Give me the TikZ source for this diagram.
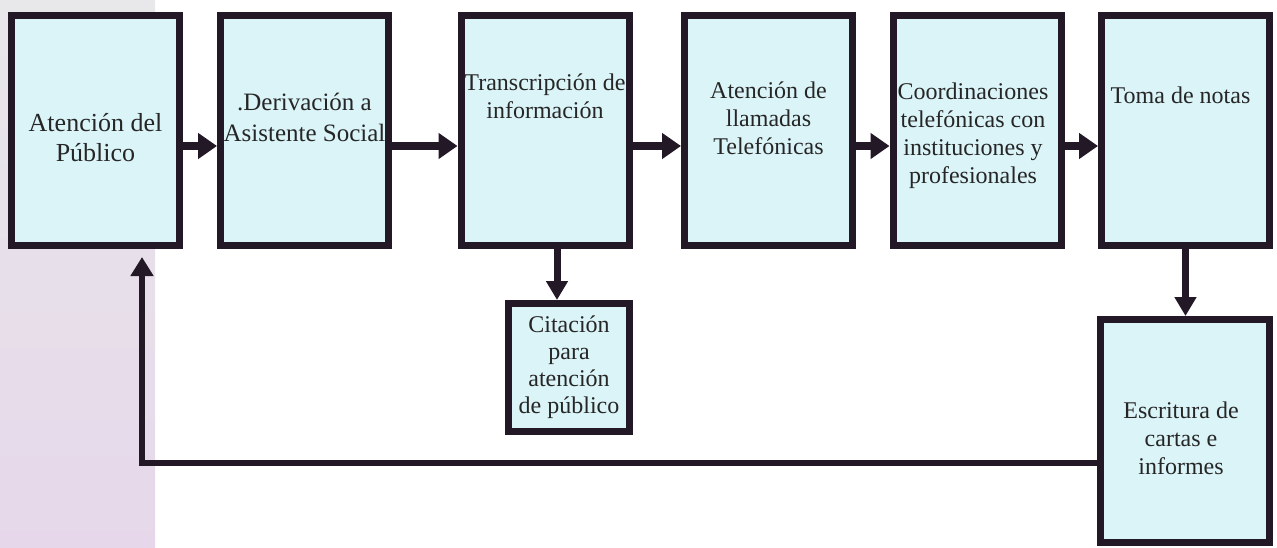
\documentclass[tikz,border=0pt]{standalone}
\usepackage{fontspec}
\setmainfont{Liberation Serif}
\usetikzlibrary{arrows.meta,positioning}
\definecolor{boxfill}{RGB}{218,244,248}
\definecolor{boxline}{RGB}{34,24,38}
\definecolor{bandtop}{RGB}{232,231,234}
\definecolor{bandbot}{RGB}{230,216,234}
\tikzset{
  procbox/.style={draw=boxline, line width=7pt, fill=boxfill, minimum width=168pt, minimum height=230pt, inner sep=0pt},
  proctext/.style={align=center, font=\fontsize{24}{28}\selectfont, text=black!85, inner sep=0pt},
  flowarr/.style={-{Triangle[length=19pt,width=25pt]}, line width=8pt, draw=boxline},
  downarr/.style={-{Triangle[length=19pt,width=21pt]}, line width=7pt, draw=boxline},
  backarr/.style={-{Triangle[length=19pt,width=22pt]}, line width=6pt, draw=boxline}
}

\begin{document}
\begin{tikzpicture}[x=1pt, y=-1pt]
\useasboundingbox (0,0) rectangle (1277,548);
\shade[top color=bandtop, bottom color=bandbot] (0,0) rectangle (155,548);
% top row
\node[procbox] (a1) at (95.5,130.5) {};
\node[procbox] (a2) at (304.5,130.5) {};
\node[procbox] (a3) at (545,130.5) {};
\node[procbox] (a4) at (768.5,130.5) {};
\node[procbox] (a5) at (977,130.5) {};
\node[procbox] (a6) at (1185.5,130.5) {};
% lower boxes
\node[procbox, minimum width=121pt, minimum height=128pt] (a7) at (569,367.5) {};
\node[procbox, minimum width=169pt, minimum height=223pt] (a8) at (1185,431) {};
% texts
\node[proctext, font=\fontsize{26}{30}\selectfont] (t1) at ([yshift=-7pt]a1.center) {Atención del\\Público};
\node[proctext, font=\fontsize{25}{31}\selectfont] (t2) at ([yshift=13.5pt]a2.center) {.Derivación a\\Asistente Social};
\node[proctext] (t3) at ([yshift=34.5pt]a3.center) {Transcripción de\\información};
\node[proctext] (t4) at ([yshift=12.5pt]a4.center) {Atención de\\llamadas\\Telefónicas};
\node[proctext] (t5) at ([xshift=-4pt,yshift=-5.5pt]a5.center) {Coordinaciones\\telefónicas con\\instituciones y\\profesionales};
\node[proctext] (t6) at ([xshift=-5pt,yshift=35.5pt]a6.center) {Toma de notas};
\node[proctext, font=\fontsize{24}{27}\selectfont] (t7) at (a7.center) {Citación\\para\\atención\\de público};
\node[proctext] (t8) at ([xshift=-4pt,yshift=-7pt]a8.center) {Escritura de\\cartas e\\informes};
% connectors
\draw[flowarr] ([yshift=-15.5pt]a1.east) -- ([yshift=-15.5pt]a2.west);
\draw[flowarr] ([yshift=-15.5pt]a2.east) -- ([yshift=-15.5pt]a3.west);
\draw[flowarr] ([yshift=-15.5pt]a3.east) -- ([yshift=-15.5pt]a4.west);
\draw[flowarr] ([yshift=-15.5pt]a4.east) -- ([yshift=-15.5pt]a5.west);
\draw[flowarr] ([yshift=-15.5pt]a5.east) -- ([yshift=-15.5pt]a6.west);
\draw[downarr] ([xshift=12pt]a3.south) -- ([xshift=12pt]a3.south |- a7.north);
\draw[downarr] (a6.south) -- (a6.south |- a8.north);
\draw[backarr] ([yshift=-32pt]a8.west) -| ([xshift=46.5pt,yshift=-8pt]a1.south);
\end{tikzpicture}
\end{document}
